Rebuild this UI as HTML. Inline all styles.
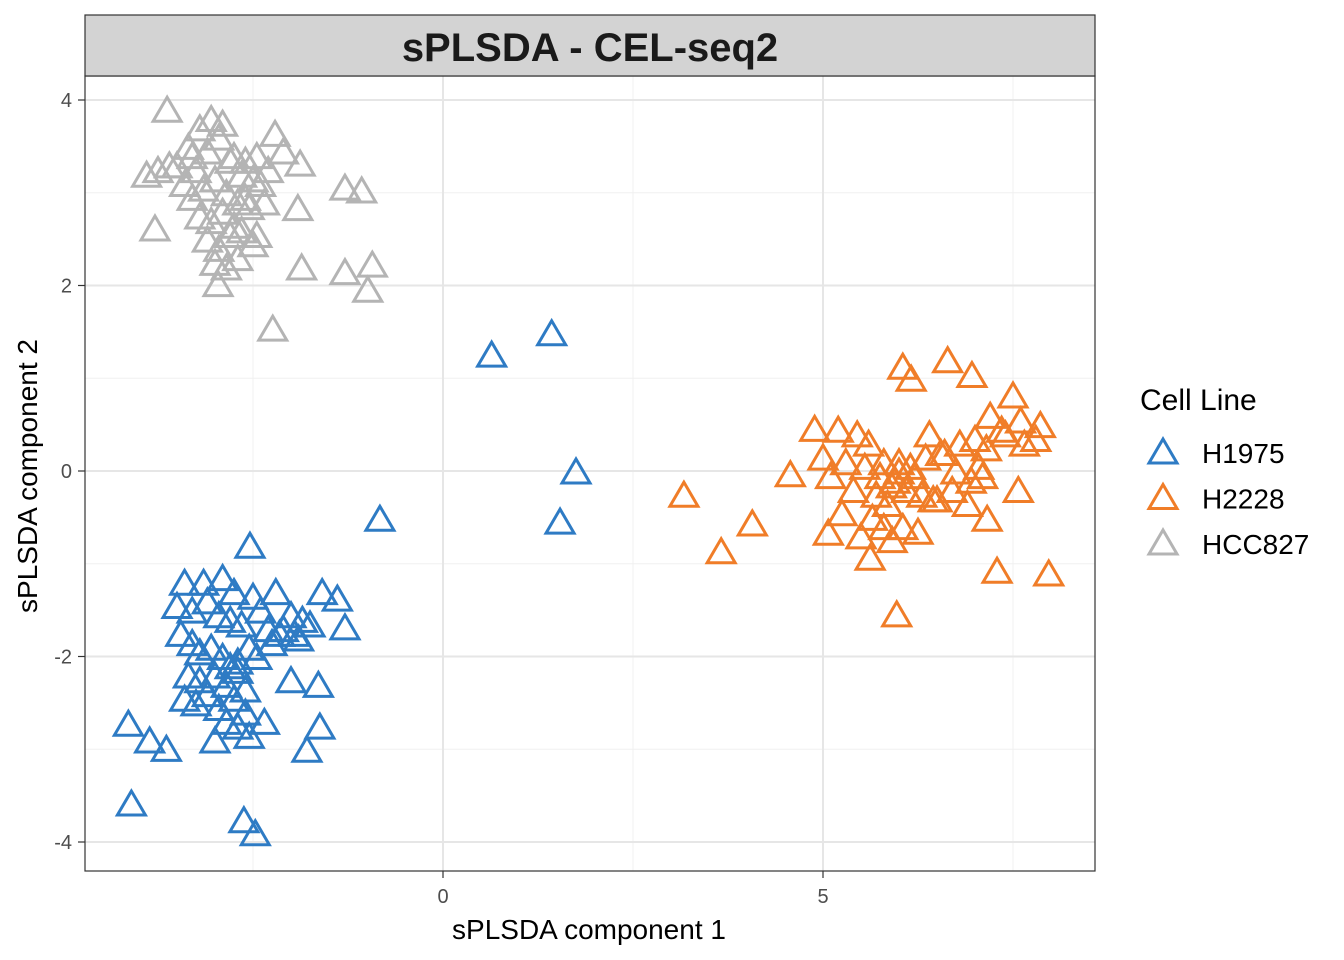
<!DOCTYPE html>
<html><head><meta charset="utf-8"><style>
body{margin:0;background:#fff;}
svg{display:block;font-family:"Liberation Sans",Arial,sans-serif;}
</style></head><body>
<svg id="chart" width="1344" height="960">
<rect x="0" y="0" width="1344" height="960" fill="#fff"/>
<g id="grid"></g>
<g id="points"></g>
<rect x="85" y="76" width="1010" height="795" fill="none" stroke="#333" stroke-width="1.2"/>
<rect x="85" y="15" width="1010" height="61" fill="#d3d3d3" stroke="#333" stroke-width="1.2"/>
<text x="590" y="61" text-anchor="middle" font-size="40" font-weight="bold" fill="#1a1a1a">sPLSDA - CEL-seq2</text>
<g id="axes"></g>
<text x="589" y="939" text-anchor="middle" font-size="28" fill="#000">sPLSDA component 1</text>
<text transform="translate(37,476) rotate(-90)" text-anchor="middle" font-size="28" fill="#000">sPLSDA component 2</text>
<g>
<text x="1140" y="410" font-size="30" fill="#000">Cell Line</text>
<g id="legend-items"></g>
</g>
</svg>
<script>
const xTicks=[0,5];
const yTicks=[-4,-2,0,2,4];
const xMinor=[-2.5,2.5,7.5];
const yMinor=[-3,-1,1,3];
const groups=["H1975","H2228","HCC827"];
const colors={"H1975":"#2e7bc4","H2228":"#f07d28","HCC827":"#b4b4b4"};
const h1975X=[-0.83,0.64,1.43,1.75,1.54,-2.54,-4.1,-2.62,-2.47,-4.14,-3.86,-3.64,-1.79,-1.62,-1.29,-1.39,-1.59,-1.64,-2.0,
-3.4,-3.15,-2.9,-2.75,-2.5,-2.2,-2.0,-1.85,-3.5,-3.3,-3.1,-2.95,-2.8,-2.65,-2.4,-2.3,-2.1,-1.95,-3.45,-3.3,-3.2,-3.05,-2.9,-2.8,-2.7,-2.55,-2.45,-3.35,-3.2,-3.0,-2.85,-2.7,-2.6,-3.4,-3.25,-3.1,-2.95,-2.75,-2.6,-2.85,-2.7,-3.0,-2.55,-2.35,-2.25,-2.15,-1.9,-1.75];
const h1975Y=[-0.51,1.26,1.49,0.0,-0.54,-0.8,-3.58,-3.76,-3.9,-2.72,-2.9,-2.99,-3.0,-2.75,-1.68,-1.37,-1.3,-2.3,-2.25,
-1.2,-1.2,-1.15,-1.3,-1.35,-1.3,-1.55,-1.6,-1.45,-1.5,-1.4,-1.55,-1.6,-1.65,-1.5,-1.7,-1.7,-1.75,-1.75,-1.85,-1.95,-1.9,-2.0,-2.1,-2.05,-1.9,-2.0,-2.2,-2.25,-2.2,-2.3,-2.15,-2.35,-2.45,-2.5,-2.4,-2.55,-2.45,-2.6,-2.7,-2.75,-2.9,-2.85,-2.7,-1.85,-1.75,-1.8,-1.65];
const h2228X=[3.17,3.66,4.07,4.57,4.89,5.97,5.62,7.97,7.29,7.57,6.64,6.05,6.16,6.96,7.5,7.86,5.07,5.91,7.16,
5.2,5.45,5.6,5.8,6.0,6.2,6.4,6.6,6.8,7.0,7.2,7.4,7.6,7.8,5.0,5.3,5.55,5.75,5.95,6.15,6.35,6.55,6.75,6.95,7.15,7.35,7.65,5.1,5.4,5.7,5.9,6.1,6.3,6.5,6.7,6.9,7.1,5.25,5.65,5.85,6.05,6.25,6.45,7.05,5.5,5.8,6.0];
const h2228Y=[-0.25,-0.86,-0.56,-0.03,0.46,-1.54,-0.93,-1.1,-1.07,-0.2,1.2,1.13,1.0,1.04,0.82,0.5,-0.66,-0.74,-0.51,
0.45,0.4,0.3,0.1,0.0,-0.05,0.4,0.2,0.3,0.35,0.6,0.4,0.55,0.35,0.15,0.1,0.05,-0.05,-0.1,0.05,0.15,0.2,0.0,-0.1,0.25,0.45,0.3,-0.05,-0.2,-0.25,-0.15,-0.2,-0.25,-0.3,-0.2,-0.35,-0.05,-0.45,-0.5,-0.35,-0.6,-0.65,-0.3,0.05,-0.7,-0.6,0.1];
const hcc827X=[-3.63,-2.24,-2.96,-0.99,-0.93,-1.29,-1.86,-1.29,-1.07,-3.79,-3.9,-1.91,-2.21,-1.88,
-3.5,-3.35,-3.2,-3.05,-2.9,-2.75,-2.6,-2.45,-2.3,-3.4,-3.25,-3.1,-2.95,-2.8,-2.65,-2.5,-3.3,-3.15,-3.0,-2.85,-2.7,-2.55,-2.4,-3.2,-3.05,-2.9,-2.75,-2.6,-2.45,-3.1,-2.95,-2.8,-2.65,-2.5,-3.0,-2.85,-2.7,-3.75,-3.6,-2.1,-2.35,-3.3];
const hcc827Y=[3.9,1.54,2.02,1.96,2.23,2.15,2.2,3.06,3.03,2.62,3.2,2.84,3.64,3.32,
3.3,3.5,3.7,3.8,3.75,3.4,3.35,3.4,3.25,3.1,3.25,3.45,3.6,3.35,3.2,3.15,2.95,3.05,3.15,3.0,2.9,2.85,3.1,2.75,2.7,2.8,2.65,2.95,2.55,2.5,2.4,2.55,2.6,2.45,2.25,2.2,2.3,3.25,3.3,3.45,2.9,3.4];
const yLabels=["-4","-2","0","2","4"];
const xLabels=["0","5"];

const NS="http://www.w3.org/2000/svg";
const X=v=>443+v*76;
const Y=v=>471-v*92.75;
function mk(tag,attrs,parent){const e=document.createElementNS(NS,tag);for(const k in attrs)e.setAttribute(k,attrs[k]);parent.appendChild(e);return e;}
const grid=document.getElementById('grid');
xMinor.forEach(v=>{const l=mk('line',{x1:X(v),x2:X(v),y1:76,y2:871,stroke:'#f0f0f0','stroke-width':1},grid);

});
yMinor.forEach(v=>{const l=mk('line',{x1:85,x2:1095,y1:Y(v),y2:Y(v),stroke:'#f0f0f0','stroke-width':1},grid);

});
xTicks.forEach(v=>{const l=mk('line',{x1:X(v),x2:X(v),y1:76,y2:871,stroke:'#e6e6e6','stroke-width':2},grid);

});
yTicks.forEach(v=>{const l=mk('line',{x1:85,x2:1095,y1:Y(v),y2:Y(v),stroke:'#e6e6e6','stroke-width':2},grid);

});
const axes=document.getElementById('axes');
xTicks.forEach((v,i)=>{const t=mk('line',{x1:X(v),x2:X(v),y1:871,y2:878,stroke:'#333','stroke-width':1.2},axes);


const tx=mk('text',{x:X(v),y:903,'text-anchor':'middle','font-size':20,fill:'#4d4d4d'},axes);tx.textContent=xLabels[i];

});
yTicks.forEach((v,i)=>{const t=mk('line',{x1:78,x2:85,y1:Y(v),y2:Y(v),stroke:'#333','stroke-width':1.2},axes);


const tx=mk('text',{x:72,y:Y(v)+7,'text-anchor':'end','font-size':20,fill:'#4d4d4d'},axes);tx.textContent=yLabels[i];

});
function tri(cx,cy,c,parent){const w=14,h=12;
return mk('polygon',{points:`${cx},${cy-h} ${cx-w},${cy+h} ${cx+w},${cy+h}`,fill:'none',stroke:c,'stroke-width':3,'stroke-linejoin':'miter'},parent);}
const pts=document.getElementById('points');
const data=[[h1975X,h1975Y,"H1975"],[h2228X,h2228Y,"H2228"],[hcc827X,hcc827Y,"HCC827"]];
data.forEach(([xs,ys,g])=>{xs.forEach((x,i)=>{const p=tri(X(x),Y(ys[i]),colors[g],pts);

});});
const li=document.getElementById('legend-items');
groups.forEach((g,i)=>{const yy=453+i*45.5;
const p=tri(1163,yy-2,colors[g],li);


const t=mk('text',{x:1202,y:yy+10,'font-size':28,fill:'#000'},li);t.textContent=g;

});
</script>
</body></html>
